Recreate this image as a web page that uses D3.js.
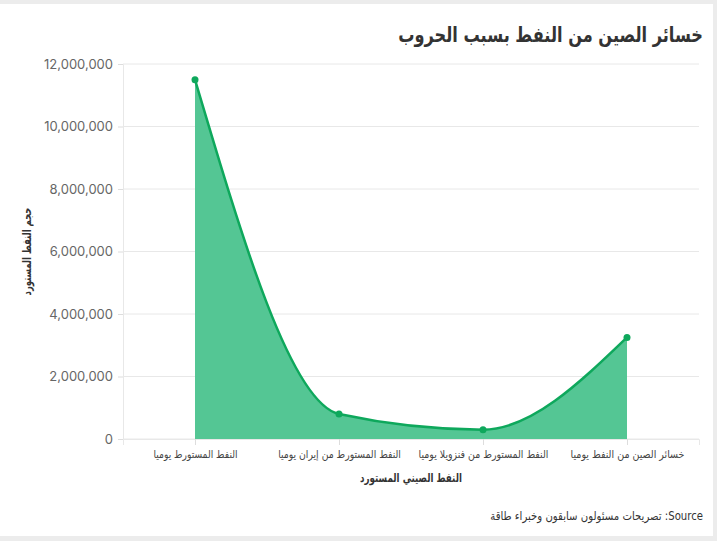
<!DOCTYPE html>
<html>
<head>
<meta charset="utf-8">
<script src="https://cdn.jsdelivr.net/npm/d3@7"></script>
<style>
  html, body { margin: 0; padding: 0; background: #ececec; }
  svg { display: block; font-family: Inter, "DejaVu Sans", sans-serif; }
</style>
</head>
<body>
<div id="chart"></div>
<script>
// 類別與數值
const categories = [
  "النفط المستورط يوميا",
  "النفط المستورط من إيران يوميا",
  "النفط المستورط من فنزويلا يوميا",
  "خسائر الصين من النفط يوميا"
];
const values = [11500000, 800000, 300000, 3250000];
const yTicks = [0, 2000000, 4000000, 6000000, 8000000, 10000000, 12000000];

const titleText = "خسائر الصين من النفط بسبب الحروب";
const xTitle = "النفط الصيني المستورد";
const yTitle = "حجم النفط المستورد";
const sourceText = "Source: تصريحات مسئولون سابقون وخبراء طاقة";

// 阿拉伯文字型較寬，水平壓縮到參考圖的寬度
const labelWidths = [84, 123, 130, 114];

// 依實際量測的寬度，計算水平縮放比例
function squeeze(node, target) {
  const len = node.getComputedTextLength();
  return len > target ? target / len : 1;
}

function drawChart(sel) {
  const W = 717, H = 541;
  const margin = {top: 64, right: 18, bottom: 102, left: 123};
  const width = W - margin.left - margin.right;
  const height = H - margin.top - margin.bottom;

  const svg = d3.select(sel).append("svg")
      .attr("width", W)
      .attr("height", H);

  // 背景卡片
  svg.append("rect").attr("width", W).attr("height", H).attr("fill", "#ececec");
  svg.append("rect").attr("x", 0).attr("y", 4).attr("width", 713).attr("height", 532).attr("fill", "#fff");

  const g = svg.append("g").attr("transform", `translate(${margin.left},${margin.top})`);

  const x = d3.scalePoint().domain(categories).range([0, width]).padding(0.5);
  const y = d3.scaleLinear().domain([0, 12000000]).range([height, 0]);

  // 格線
  g.append("g")
      .selectAll("line")
      .data(yTicks)
      .join("line")
      .attr("x1", 0).attr("x2", width)
      .attr("y1", d => y(d)).attr("y2", d => y(d))
      .attr("stroke", "#e8e8e8");

  // y 軸
  const yAxis = g.append("g")
      .call(d3.axisLeft(y).tickValues(yTicks).tickFormat(d3.format(",")).tickSize(5).tickPadding(5));
  yAxis.select(".domain").attr("stroke", "#e8e8e8");
  yAxis.selectAll(".tick line").attr("stroke", "#ddd");
  yAxis.selectAll("text").attr("fill", "#666").style("font-size", "13px").style("font-family", "Inter, sans-serif");

  // x 軸
  const xAxis = g.append("g")
      .attr("transform", `translate(0,${height})`)
      .call(d3.axisBottom(x).tickSize(6).tickPadding(5));
  xAxis.select(".domain").attr("stroke", "#e8e8e8");
  xAxis.selectAll(".tick line").attr("stroke", "#ddd");
  xAxis.selectAll("text")
      .attr("fill", "#444")
      .style("font-size", "11px")
      .style("font-family", "'DejaVu Sans', sans-serif")
      .attr("transform", function(d, i) { return `scale(${squeeze(this, labelWidths[i])},1)`; });

  const data = categories.map((c, i) => ({c, v: values[i]}));

  // 面積
  g.append("path")
      .datum(data)
      .attr("fill", "#54c694")
      .attr("d", d3.area().x(d => x(d.c)).y0(y(0)).y1(d => y(d.v)).curve(d3.curveMonotoneX));

  // 線
  g.append("path")
      .datum(data)
      .attr("fill", "none")
      .attr("stroke", "#0ea85c")
      .attr("stroke-width", 2.5)
      .attr("d", d3.line().x(d => x(d.c)).y(d => y(d.v)).curve(d3.curveMonotoneX));

  // 點
  g.append("g")
      .selectAll("circle")
      .data(data)
      .join("circle")
      .attr("cx", d => x(d.c))
      .attr("cy", d => y(d.v))
      .attr("r", 3.5)
      .attr("fill", "#0ea85c");

  // 標題
  const title = svg.append("text")
      .attr("text-anchor", "end")
      .attr("fill", "#333")
      .style("font-size", "21px")
      .style("font-weight", "bold")
      .style("font-family", "'DejaVu Sans', sans-serif")
      .text(titleText);
  title.attr("transform", `translate(703,42) scale(${squeeze(title.node(), 305)},1)`);

  // 軸標題
  const xt = svg.append("text")
      .attr("text-anchor", "middle")
      .attr("fill", "#333")
      .style("font-size", "12px")
      .style("font-weight", "bold")
      .style("font-family", "'DejaVu Sans', sans-serif")
      .text(xTitle);
  xt.attr("transform", `translate(${margin.left + width / 2},482) scale(${squeeze(xt.node(), 102)},1)`);

  const yt = svg.append("text")
      .attr("text-anchor", "middle")
      .attr("fill", "#333")
      .style("font-size", "12px")
      .style("font-weight", "bold")
      .style("font-family", "'DejaVu Sans', sans-serif")
      .text(yTitle);
  yt.attr("transform", `translate(31,${margin.top + height / 2}) rotate(-90) scale(${squeeze(yt.node(), 88)},1)`);

  // 資料來源
  const src = svg.append("text")
      .attr("direction", "rtl")
      .attr("text-anchor", "start")
      .attr("fill", "#333")
      .style("font-size", "12px")
      .style("font-family", "'DejaVu Sans', sans-serif")
      .text(sourceText);
  src.attr("transform", `translate(703,520) scale(${squeeze(src.node(), 213)},1)`);
}

drawChart("#chart");
</script>
</body>
</html>
